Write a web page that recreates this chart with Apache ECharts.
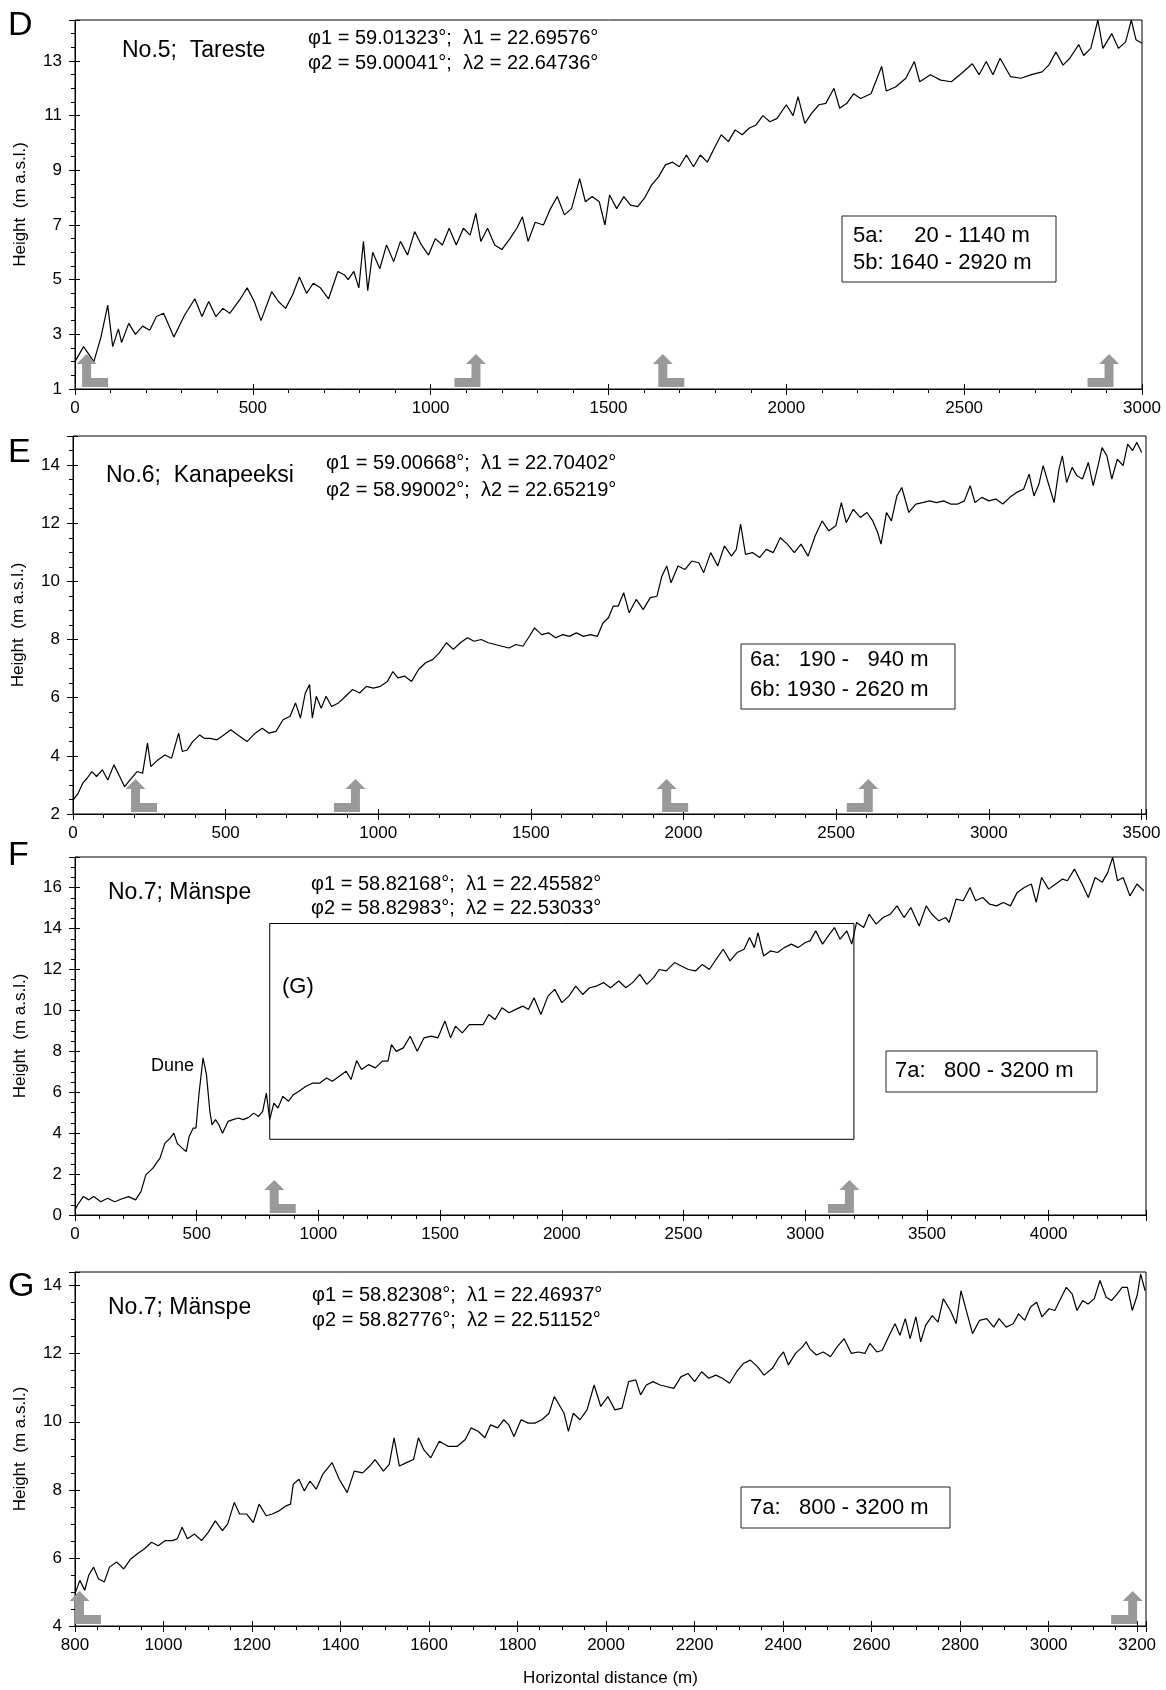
<!DOCTYPE html>
<html>
<head>
<meta charset="utf-8">
<script src="https://cdn.jsdelivr.net/npm/echarts@6/dist/echarts.min.js"></script>
<style>
  html, body { margin: 0; background: #fff; }
  #chart { width: 1166px; height: 1690px; }
</style>
</head>
<body>
<div id="chart"></div>
<script>
// ---- profile D: No.5 Tareste ----
const dDist = [0,24,53,73,92,106,122,131,151,170, 190,210,229,249,278,308,337,357,376,396,
  416,435,465,484,504,523,553,572,592,612, 631,651,670,690,713,739,758,768,784,798,
  811,823,837,857,876,896,915,935,955,974, 994,1013,1033,1052,1072,1092,1111,1127,1141,1160,
  1180,1200,1223,1243,1258,1274,1294,1317,1337,1356, 1376,1396,1419,1435,1454,1474,1490,1503,1523,1543,
  1562,1582,1601,1621,1641,1660,1680,1699,1719,1739, 1758,1778,1797,1817,1837,1856,1876,1895,1915,1934,
  1954,1974,2000,2019,2033,2052,2072,2092,2111,2134, 2150,2170,2189,2209,2238,2268,2281,2307,2336,2360,
  2375,2405,2434,2464,2493,2523,2542,2562,2581,2601, 2630,2660,2689,2719,2738,2758,2778,2797,2822,2836,
  2856,2876,2890,2915,2934,2954,2970,2983,3000];
const dHeight = [2.0,2.55,2.0,2.9,4.07,2.55,3.2,2.7,3.4,3.0, 3.3,3.15,3.65,3.77,2.9,3.7,4.3,3.65,4.2,3.65,
  3.95,3.77,4.3,4.7,4.2,3.5,4.56,4.2,3.95,4.45, 5.1,4.5,4.87,4.7,4.3,5.3,5.17,5.0,5.3,4.7,
  6.4,4.6,6.0,5.4,6.27,5.66,6.4,5.9,6.76,6.27, 5.9,6.5,6.27,6.88,6.27,6.88,6.63,7.43,6.4,6.88,
  6.27,6.1,6.5,6.9,7.3,6.4,7.1,7.0,7.6,8.04, 7.37,7.6,8.7,7.85,8.04,7.85,7.0,8.1,7.6,8.04,
  7.73,7.67,7.98,8.46,8.77,9.2,9.3,9.13,9.56,9.13, 9.56,9.3,9.8,10.3,10.05,10.48,10.3,10.54,10.66,11.0,
  10.78,10.9,11.4,11.0,11.7,10.72,11.1,11.4,11.45,12.0, 11.27,11.45,11.8,11.63,11.8,12.8,11.9,12.05,12.37,12.98,
  12.24,12.5,12.3,12.24,12.55,12.9,12.5,12.98,12.5,13.1, 12.43,12.37,12.5,12.6,12.85,13.33,12.85,13.1,13.6,13.2,
  13.46,14.5,13.46,14.0,13.46,13.7,14.5,13.78,13.65];
const dCuts = [20, 1140, 1640, 2920];

// ---- profile E: No.6 Kanapeeksi ----
const eDist = [0,16,32,46,62,77,96,114,134,153, 169,187,210,228,244,255,278,301,323,346,
  358,374,392,415,431,449,472,494,517,540, 570,597,620,642,665,688,711,729,745,761,
  775,784,797,813,829,847,870,893,916,939, 961,984,1007,1030,1048,1064,1087,1109,1132,1155,
  1178,1200,1223,1246,1269,1292,1314,1337,1360,1383, 1405,1428,1451,1474,1492,1512,1535,1558,1581,1604,
  1626,1649,1672,1695,1718,1736,1754,1770,1786,1804, 1822,1845,1868,1891,1913,1929,1945,1959,1982,2005,
  2027,2050,2066,2089,2112,2134,2157,2173,2187,2203, 2226,2249,2271,2294,2317,2340,2363,2385,2408,2431,
  2454,2476,2499,2517,2533,2556,2579,2601,2620,2636, 2647,2665,2681,2699,2715,2738,2761,2783,2806,2829,
  2852,2875,2898,2920,2939,2955,2977,3000,3023,3046, 3069,3091,3114,3132,3148,3164,3178,3196,3214,3230,
  3241,3255,3273,3289,3307,3326,3342,3358,3371,3387, 3403,3421,3440,3455,3471,3485,3501];
const eHeight = [2.48,2.7,3.06,3.23,3.46,3.29,3.52,3.17,3.69,3.29, 2.94,3.17,3.46,3.4,4.44,3.63,3.86,4.03,3.92,4.78,
  4.15,4.2,4.49,4.72,4.6,4.6,4.55,4.72,4.9,4.72, 4.49,4.78,4.95,4.78,4.84,5.24,5.36,5.82,5.3,6.16,
  6.45,5.3,6.05,5.64,6.05,5.7,5.82,6.05,6.28,6.16, 6.39,6.33,6.39,6.56,6.9,6.68,6.74,6.56,6.97,7.2,
  7.31,7.54,7.89,7.66,7.89,8.06,7.94,8.0,7.89,7.83, 7.77,7.71,7.83,7.77,8.06,8.4,8.17,8.23,8.06,8.17,
  8.11,8.23,8.11,8.17,8.11,8.57,8.75,9.15,9.15,9.61, 8.92,9.38,9.03,9.44,9.49,10.18,10.53,9.95,10.53,10.41,
  10.7,10.64,10.3,10.99,10.53,11.22,10.87,11.1,11.97,10.93, 10.99,10.82,11.1,10.99,11.5,11.28,10.99,11.28,10.87,11.56,
  12.08,11.74,11.91,12.71,12.02,12.48,12.2,12.37,12.08,11.68, 11.28,12.37,12.08,12.94,13.23,12.37,12.66,12.71,12.77,12.71,
  12.77,12.66,12.66,12.77,13.29,12.71,12.89,12.77,12.83,12.66, 12.89,13.06,13.17,13.69,12.94,13.34,13.98,13.34,12.71,13.86,
  14.32,13.4,13.92,13.63,13.52,14.09,13.29,13.98,14.6,14.32, 13.52,14.2,13.98,14.72,14.5,14.78,14.43];
const eCuts = [190, 940, 1930, 2620];

// ---- profile F: No.7 Mänspe (whole) ----
const fDist = [0,11,34,57,77,106,134,163,191,220, 249,271,291,320,349,369,391,406,420,440,
  457,469,486,497,509,526,540,554,563,577, 591,606,629,649,671,691,714,734,754,771,
  786,800,817,834,854,877,897,920,949,977, 1006,1034,1057,1086,1114,1134,1157,1177,1206,1234,
  1263,1286,1300,1320,1349,1377,1406,1434,1463,1491, 1520,1543,1563,1591,1620,1649,1677,1700,1726,1754,
  1783,1811,1840,1863,1886,1914,1943,1971,2000,2029, 2057,2086,2114,2143,2171,2200,2234,2263,2291,2320,
  2349,2377,2400,2429,2463,2491,2520,2549,2577,2606, 2634,2663,2691,2720,2749,2771,2791,2806,2829,2857,
  2886,2914,2943,2971,3000,3020,3043,3071,3100,3120, 3143,3171,3191,3211,3240,3263,3291,3320,3349,3377,
  3406,3434,3468,3497,3520,3549,3577,3591,3620,3649, 3677,3700,3729,3757,3786,3814,3843,3871,3900,3929,
  3949,3971,4000,4029,4057,4077,4106,4134,4163,4191, 4220,4243,4263,4283,4306,4334,4363,4391];
const fHeight = [0.25,0.5,0.9,0.74,0.9,0.65,0.82,0.65,0.78,0.9, 0.74,1.14,1.96,2.29,2.78,3.5,3.76,4.0,3.5,3.27,
  3.1,3.84,4.25,4.25,5.88,7.68,6.86,5.07,4.41,4.66, 4.41,4.0,4.58,4.66,4.74,4.66,4.77,4.98,4.82,5.07,
  5.96,4.66,5.47,5.23,5.8,5.56,5.88,6.05,6.29,6.45, 6.45,6.7,6.54,6.78,7.03,6.62,7.55,7.11,7.35,7.19,
  7.52,7.52,8.33,8.0,8.17,8.74,8.0,8.66,8.74,8.66, 9.48,8.66,9.23,8.9,9.31,9.31,9.31,9.8,9.56,10.13,
  9.89,10.05,10.21,10.05,10.62,9.8,10.7,11.03,10.38,10.7, 11.19,10.78,11.11,11.19,11.36,11.11,11.44,11.11,11.36,11.76,
  11.27,11.6,12.0,11.93,12.34,12.17,12.0,11.93,12.25,12.0, 12.5,12.99,12.42,12.83,12.99,13.56,13.07,13.8,12.66,12.91,
  12.83,13.07,13.24,13.07,13.32,13.4,13.89,13.24,13.73,14.05, 13.48,13.89,13.24,14.3,14.05,14.7,14.22,14.54,14.7,15.11,
  14.54,15.03,14.13,15.11,14.7,14.38,14.54,14.3,15.44,15.36, 16.01,15.36,15.52,15.2,15.11,15.28,15.11,15.77,16.01,16.18,
  15.28,16.5,15.93,16.18,16.42,16.34,16.91,16.26,15.52,16.5, 16.26,16.75,17.48,16.34,16.5,15.6,16.18,15.85];
const fCuts = [800, 3200];
const fBoxX = [800, 3200];      // extent of detail (G)
const fBoxY = [3.7, 14.25];

// ---- profile G: No.7 Mänspe (detail) ----
const gDist = [800,811,822,831,842,853,866,878,894,910, 926,941,957,973,988,1004,1020,1031,1042,1054,
  1070,1086,1101,1117,1133,1145,1160,1172,1188,1203, 1216,1232,1246,1262,1277,1287,1293,1306,1318,1331,
  1345,1360,1381,1397,1415,1431,1450,1466,1478,1497, 1510,1521,1533,1549,1565,1576,1588,1604,1623,1643,
  1664,1682,1695,1711,1726,1739,1755,1769,1780,1792, 1808,1824,1839,1855,1871,1883,1894,1905,1915,1926,
  1941,1957,1973,1988,2004,2020,2036,2051,2067,2078, 2091,2106,2122,2138,2153,2169,2185,2200,2216,2232,
  2248,2263,2279,2295,2310,2326,2342,2357,2376,2389, 2401,2412,2428,2444,2452,2460,2475,2491,2507,2522,
  2538,2554,2570,2585,2596,2612,2624,2640,2653,2664, 2676,2687,2700,2711,2722,2737,2750,2762,2778,2791,
  2802,2816,2828,2844,2860,2876,2888,2904,2920,2932, 2946,2959,2973,2985,3001,3014,3025,3040,3053,3064,
  3077,3089,3103,3116,3130,3142,3155,3166,3178,3189, 3200,3208,3218];
const gHeight = [4.95,5.34,5.05,5.49,5.73,5.39,5.29,5.73,5.88,5.68, 5.97,6.12,6.27,6.46,6.36,6.51,6.51,6.56,6.9,6.56,
  6.7,6.51,6.75,7.09,6.8,7.0,7.63,7.29,7.29,7.04, 7.58,7.24,7.29,7.39,7.53,7.58,8.16,8.31,7.97,8.26,
  8.02,8.46,8.8,8.31,7.92,8.55,8.5,8.7,8.89,8.55, 8.75,9.53,8.7,8.8,8.89,9.53,9.18,8.94,9.43,9.28,
  9.28,9.48,9.82,9.72,9.53,9.91,9.82,10.06,9.91,9.57, 10.06,9.96,9.96,10.06,10.25,10.74,10.5,10.25,9.72,10.25,
  10.06,10.35,11.08,10.45,10.74,10.35,10.4,11.18,11.23,10.79, 11.08,11.18,11.08,11.03,10.98,11.32,11.42,11.18,11.47,11.28,
  11.37,11.28,11.13,11.47,11.71,11.81,11.62,11.37,11.57,11.86, 12.05,11.67,12.01,12.2,12.35,12.15,11.96,12.05,11.91,12.2,
  12.44,12.01,12.05,12.01,12.3,12.05,12.1,12.54,12.88,12.54, 13.03,12.44,13.08,12.35,12.83,13.12,12.93,13.61,13.27,12.88,
  13.85,13.17,12.59,12.98,13.03,12.78,13.03,12.78,12.88,13.17, 12.98,13.37,13.51,13.08,13.32,13.27,13.56,13.95,13.76,13.27,
  13.56,13.46,13.61,14.15,13.66,13.56,13.76,13.95,13.95,13.27, 13.71,14.34,13.85];
const gCuts = [800, 3200];

const FONT = '"Liberation Sans", Arial, sans-serif';

// axis ranges per panel: [min, max, interval, minor splits]
const panels = [
  { dist: dDist, h: dHeight, cuts: dCuts, x: [0, 3000, 500, 5], y: [1, 14.5, 2, 4],
    grid: { left: 75, top: 20, width: 1067, height: 369 } },
  { dist: eDist, h: eHeight, cuts: eCuts, x: [0, 3515, 500, 5], y: [2, 15, 2, 4],
    grid: { left: 73, top: 436, width: 1073, height: 378 } },
  { dist: fDist, h: fHeight, cuts: fCuts, x: [0, 4400, 500, 5], y: [0, 17.5, 2, 4],
    grid: { left: 75, top: 857, width: 1071, height: 358 } },
  { dist: gDist, h: gHeight, cuts: gCuts, x: [800, 3220, 200, 4], y: [4, 14.4, 2, 4],
    grid: { left: 75, top: 1272, width: 1071, height: 354 } }
];

const zip = (a, b) => a.slice(0, Math.min(a.length, b.length)).map((v, i) => [v, b[i]]);
// label only the ticks that sit on min + k * step (hides the extra extent tick)
const onStep = (base, step) => (v) => {
  const k = (v - base) / step;
  return Math.abs(k - Math.round(k)) < 1e-6 ? String(v) : '';
};

const grid = [], xAxis = [], yAxis = [], series = [];

// L-shaped grey arrow, vertical bar edge sits on the cut distance
function arrowItem(params, api) {
  const p = api.coord([api.value(0), api.value(1)]);
  const s = api.value(2);
  const x = p[0], b = p[1] - 2;
  const H = 33, hh = 10, hw = 20, w = 9, L = 26, fh = 9;
  const pts = [[w / 2, -H], [w / 2 + hw / 2, -H + hh], [w, -H + hh], [w, -fh], [L, -fh], [L, 0],
    [0, 0], [0, -H + hh], [w / 2 - hw / 2, -H + hh]].map(q => [x + s * q[0], b + q[1]]);
  return { type: 'polygon', shape: { points: pts }, style: { fill: '#999' } };
}

panels.forEach((pn, i) => {
  grid.push(Object.assign({ show: true, borderColor: '#000', borderWidth: 1, backgroundColor: 'transparent' }, pn.grid));
  const tickStyle = { color: '#000', width: 1 };
  // main x axis (labels, outward ticks)
  xAxis.push({
    gridIndex: i, type: 'value', min: pn.x[0], max: pn.x[1], interval: pn.x[2], position: 'bottom',
    axisLine: { onZero: false, lineStyle: { color: '#000', width: 1 } },
    axisTick: { length: 6, lineStyle: tickStyle },
    minorTick: { show: true, splitNumber: pn.x[3], length: 4, lineStyle: tickStyle },
    splitLine: { show: false },
    axisLabel: { color: '#000', fontSize: 17, fontFamily: FONT, margin: 11, formatter: onStep(pn.x[0], pn.x[2]) },
    name: i === 3 ? 'Horizontal distance (m)' : '', nameLocation: 'middle', nameGap: 44,
    nameTextStyle: { color: '#000', fontSize: 17, fontFamily: FONT }
  });
  // twin x axis: inward half of the major ticks
  xAxis.push({
    gridIndex: i, type: 'value', min: pn.x[0], max: pn.x[1], interval: pn.x[2], position: 'bottom',
    axisLine: { show: false, onZero: false }, axisTick: { inside: true, length: 5, lineStyle: tickStyle },
    axisLabel: { show: false }, splitLine: { show: false }
  });
  yAxis.push({
    gridIndex: i, type: 'value', min: pn.y[0], max: pn.y[1], interval: pn.y[2], position: 'left',
    axisLine: { onZero: false, lineStyle: { color: '#000', width: 1 } },
    axisTick: { length: 6, lineStyle: tickStyle },
    minorTick: { show: true, splitNumber: pn.y[3], length: 4, lineStyle: tickStyle },
    splitLine: { show: false },
    axisLabel: { color: '#000', fontSize: 17, fontFamily: FONT, margin: 13, formatter: onStep(pn.y[0], pn.y[2]) },
    name: 'Height  (m a.s.l.)', nameLocation: 'middle', nameGap: 46, nameRotate: 90,
    nameTextStyle: { color: '#000', fontSize: 17, fontFamily: FONT }
  });
  yAxis.push({
    gridIndex: i, type: 'value', min: pn.y[0], max: pn.y[1], interval: pn.y[2], position: 'left',
    axisLine: { show: false, onZero: false }, axisTick: { inside: true, length: 5, lineStyle: tickStyle },
    axisLabel: { show: false }, splitLine: { show: false }
  });

  const line = {
    type: 'line', xAxisIndex: 2 * i, yAxisIndex: 2 * i, data: zip(pn.dist, pn.h),
    showSymbol: false, silent: true, lineStyle: { color: '#000', width: 1.2 }, z: 2
  };
  if (i === 2) {
    line.markArea = {
      silent: true,
      itemStyle: { color: 'rgba(0,0,0,0)', borderColor: '#000', borderWidth: 1 },
      data: [[{ xAxis: fBoxX[0], yAxis: fBoxY[0] }, { xAxis: fBoxX[1], yAxis: fBoxY[1] }]]
    };
  }
  series.push(line);
  series.push({
    type: 'custom', xAxisIndex: 2 * i, yAxisIndex: 2 * i, silent: true, clip: false, z: 3,
    encode: { x: 0, y: 1 },
    data: pn.cuts.map((c, k) => [c, pn.y[0], k % 2 === 0 ? 1 : -1]),
    renderItem: arrowItem
  });
});

const txt = (text, x, y, size) => ({
  type: 'text', x: x, y: y, silent: true,
  style: { text: text, fill: '#000', fontSize: size, fontFamily: FONT, verticalAlign: 'middle', align: 'left' }
});
const box = (x, y, w, h) => ({
  type: 'rect', silent: true, shape: { x: x, y: y, width: w, height: h },
  style: { fill: '#fff', stroke: '#222', lineWidth: 1 }
});

const graphic = [
  // panel D
  txt('D', 8, 26, 34),
  txt('No.5;  Tareste', 122, 51, 23),
  txt('φ1 = 59.01323°;  λ1 = 22.69576°', 308, 38, 20),
  txt('φ2 = 59.00041°;  λ2 = 22.64736°', 308, 63, 20),
  box(842, 216, 214, 66),
  txt('5a:     20 - 1140 m', 853, 236, 22),
  txt('5b: 1640 - 2920 m', 853, 263, 22),
  // panel E
  txt('E', 8, 453, 34),
  txt('No.6;  Kanapeeksi', 106, 476, 23),
  txt('φ1 = 59.00668°;  λ1 = 22.70402°', 326, 463, 20),
  txt('φ2 = 58.99002°;  λ2 = 22.65219°', 326, 490, 20),
  box(741, 644, 214, 65),
  txt('6a:   190 -   940 m', 750, 660, 22),
  txt('6b: 1930 - 2620 m', 750, 690, 22),
  // panel F
  txt('F', 8, 856, 34),
  txt('No.7; Mänspe', 108, 893, 23),
  txt('φ1 = 58.82168°;  λ1 = 22.45582°', 311, 884, 20),
  txt('φ2 = 58.82983°;  λ2 = 22.53033°', 311, 908, 20),
  txt('Dune', 151, 1066, 18),
  txt('(G)', 282, 987, 22),
  box(886, 1051, 211, 41),
  txt('7a:   800 - 3200 m', 895, 1071, 22),
  // panel G
  txt('G', 8, 1287, 34),
  txt('No.7; Mänspe', 108, 1308, 23),
  txt('φ1 = 58.82308°;  λ1 = 22.46937°', 312, 1295, 20),
  txt('φ2 = 58.82776°;  λ2 = 22.51152°', 312, 1320, 20),
  box(741, 1487, 209, 41),
  txt('7a:   800 - 3200 m', 750, 1508, 22)
];

const chart = echarts.init(document.getElementById('chart'), null, { renderer: 'canvas' });
chart.setOption({
  animation: false,
  backgroundColor: '#fff',
  grid: grid,
  xAxis: xAxis,
  yAxis: yAxis,
  series: series,
  graphic: graphic
});
</script>
</body>
</html>
